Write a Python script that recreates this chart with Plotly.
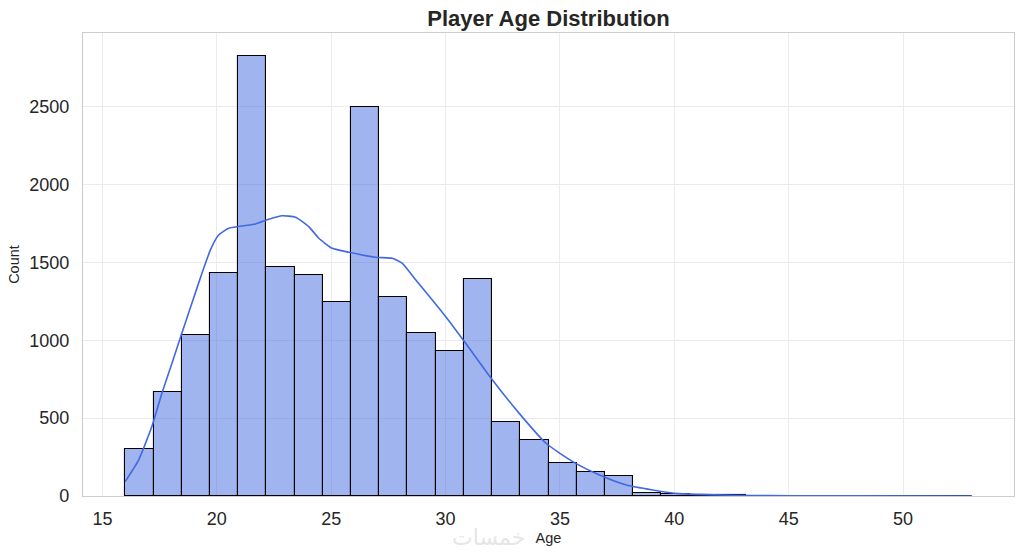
import plotly.graph_objects as go

# Histogram data (30 bins from 16 to 53)
bin_start = 16.0
bin_end = 53.0
n_bins = 30
counts = [300, 668, 1035, 1431, 2826, 1474, 1422, 1249, 2500, 1277,
          1046, 934, 1397, 473, 358, 214, 156, 131, 21, 13,
          6, 4, 2, 2, 1, 1, 0, 0, 0, 1]

# KDE curve
kde_x = [15.99, 16.58, 17.16, 17.6, 18.04, 18.47, 18.91, 19.35, 19.72, 20.08, 20.52,
         21.1, 21.69, 22.27, 22.85, 23.44, 24.02, 24.46, 25.04, 25.78, 26.94, 27.67,
         28.11, 28.7, 29.42, 30.01, 30.88, 32.05, 33.22, 34.39, 35.56, 36.73, 37.9,
         39.06, 40.2, 41.8, 43.4, 45.0, 48.0, 53.0]
kde_y = [92, 231, 446, 660, 853, 1045, 1238, 1431, 1581, 1677, 1720,
         1735, 1748, 1778, 1801, 1791, 1731, 1656, 1592, 1566, 1534, 1527,
         1495, 1388, 1260, 1152, 981, 745, 531, 339, 221, 135, 71,
         39, 15, 7, 3, 1.5, 0.5, 0.2]

x_ticks = [15, 20, 25, 30, 35, 40, 45, 50]
y_ticks = [0, 500, 1000, 1500, 2000, 2500]

width = (bin_end - bin_start) / n_bins
centers = [bin_start + width * (i + 0.5) for i in range(n_bins)]

fig = go.Figure()
fig.add_trace(go.Bar(
    x=centers, y=counts, width=[width] * n_bins,
    marker=dict(color="rgba(65,105,225,0.5)", line=dict(color="black", width=1.1)),
    showlegend=False, hoverinfo="x+y",
))
fig.add_trace(go.Scatter(
    x=kde_x, y=kde_y, mode="lines", line=dict(color="#4169E1", width=1.6, shape="spline", smoothing=0.5),
    showlegend=False,
))

font_family = "Liberation Sans, Arial, sans-serif"
L, R, T, B = 83, 10, 33, 62
fig.update_layout(
    width=1024, height=558,
    margin=dict(l=L, r=R, t=T, b=B, autoexpand=False),
    paper_bgcolor="white", plot_bgcolor="white",
    bargap=0,
    font=dict(family=font_family, color="#262626"),
    title=dict(text="<b>Player Age Distribution</b>", x=0.5, xref="paper", xanchor="center",
               y=1 - 18 / 558, yanchor="middle", automargin=False,
               font=dict(size=22, color="#262626", family=font_family)),
    xaxis=dict(range=[14.15, 54.85], tickvals=x_ticks, ticks="", showgrid=True, gridcolor="#ebebeb",
               gridwidth=1, zeroline=False, showline=True, linecolor="#cccccc", linewidth=1.3, mirror=True,
               automargin=False, tickfont=dict(size=18), ticklabelstandoff=6,
               title=dict(text="Age", font=dict(size=14.5), standoff=5)),
    yaxis=dict(range=[0, 2975], tickvals=y_ticks, ticks="", showgrid=True, gridcolor="#ebebeb",
               gridwidth=1, zeroline=False, showline=True, linecolor="#cccccc", linewidth=1.3, mirror=True,
               automargin=False, tickfont=dict(size=18), ticklabelstandoff=9,
               title=dict(text="Count", font=dict(size=14.5), standoff=6)),
)
plot_w = 1024 - L - R
plot_h = 558 - T - B
fig.add_annotation(text="خمسات", x=(488 - L) / plot_w, y=(496 - 537) / plot_h,
                   xref="paper", yref="paper", showarrow=False, yanchor="middle",
                   font=dict(size=22, color="#e6e6e6", family="DejaVu Sans"))

fig.write_html("out.html", config={"displayModeBar": False},
               post_script="document.body.style.margin='0';document.body.style.overflow='hidden';")
